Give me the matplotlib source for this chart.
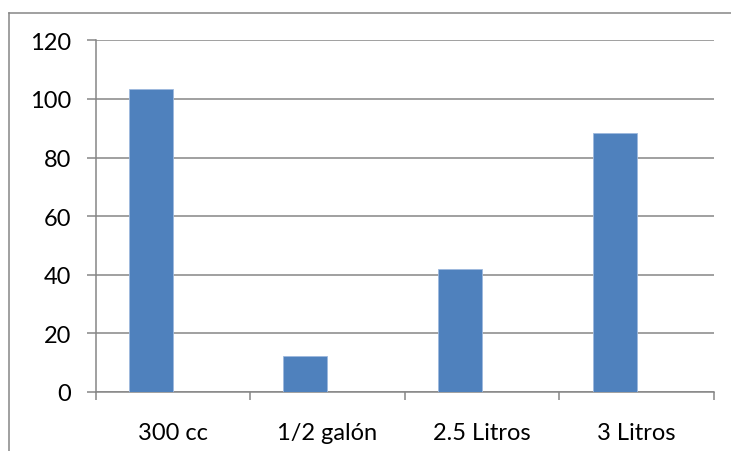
import matplotlib.pyplot as plt
import numpy as np
from matplotlib.lines import Line2D

# --- data ---
categories = ["300 cc", "1/2 galón", "2.5 Litros", "3 Litros"]
values = [103.5, 12, 42, 88.5]
y_ticks = [0, 20, 40, 60, 80, 100, 120]

GRAY = "#868686"
BLUE = "#4F81BD"

plt.rcParams['font.family'] = ['Lato', 'DejaVu Sans']

fig = plt.figure(figsize=(7.31, 4.52), dpi=100)
ax = fig.add_axes([0.1308, 0.1316, 0.9767 - 0.1308, 0.9082 - 0.1316])

# excel style clustered bars: 2 series slots, gap width 150%, only first one filled
w = 1 / 3.5
x = np.arange(len(categories))
ax.bar(x - w / 2, values, w, color=BLUE, edgecolor="#9DB9DE", linewidth=0.6, zorder=3)

ax.set_xlim(-0.5, len(categories) - 0.5)
ax.set_ylim(0, 120)
ax.set_yticks(y_ticks)
ax.grid(axis="y", color=GRAY, linewidth=1.1, zorder=0)

ax.set_xticks(np.arange(len(categories) + 1) - 0.5)
ax.set_xticklabels([])
ax.set_xticks(x, minor=True)
ax.set_xticklabels(categories, minor=True)
ax.tick_params(axis="x", which="major", length=5.5, width=1.1, color=GRAY, direction="out")
ax.tick_params(axis="x", which="minor", length=0, pad=22, labelsize=17)
ax.tick_params(axis="y", length=6.5, width=1.1, color=GRAY, pad=11, labelsize=17)

for s in ["top", "right"]:
    ax.spines[s].set_visible(False)
for s in ["left", "bottom"]:
    ax.spines[s].set_color(GRAY)
    ax.spines[s].set_linewidth(1.1)

# outer chart frame (only top / left visible in the crop)
fig.add_artist(Line2D([8.5 / 731, 1.0], [1 - 13.5 / 452] * 2, color=GRAY, linewidth=1.1,
                      transform=fig.transFigure))
fig.add_artist(Line2D([8.5 / 731] * 2, [0, 1 - 13.5 / 452], color=GRAY, linewidth=1.1,
                      transform=fig.transFigure))

fig.savefig("out.png", dpi=100)
